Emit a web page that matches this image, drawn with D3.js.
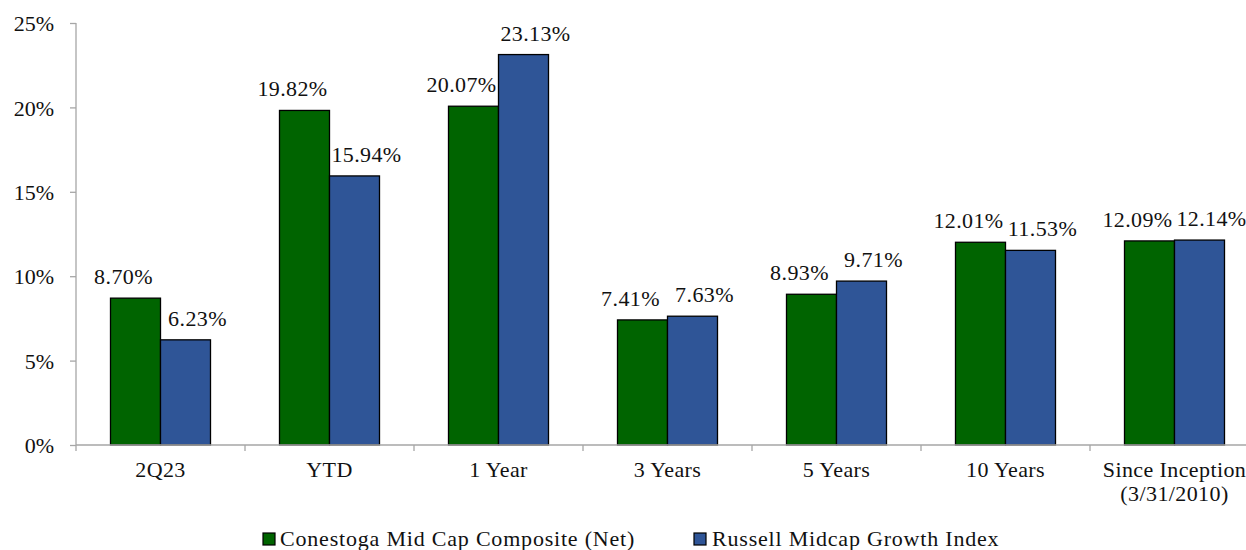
<!DOCTYPE html>
<html>
<head>
<meta charset="utf-8">
<script src="https://cdn.jsdelivr.net/npm/d3@7"></script>
<style>
  html, body { margin: 0; padding: 0; background: #fff; }
  svg { display: block; overflow: hidden; }
  text { font-family: "Liberation Serif", "Times New Roman", serif; fill: #111; }
</style>
</head>
<body>
<svg id="chart" width="1246" height="550"></svg>
<script>
const categories = ["2Q23", "YTD", "1 Year", "3 Years", "5 Years", "10 Years", "Since Inception\n(3/31/2010)"];
const seriesNames = ["Conestoga Mid Cap Composite (Net)", "Russell Midcap Growth Index"];
const conestoga = [8.70, 19.82, 20.07, 7.41, 8.93, 12.01, 12.09];
const russell = [6.23, 15.94, 23.13, 7.63, 9.71, 11.53, 12.14];
const yTicks = [0, 5, 10, 15, 20, 25];
const colors = ["#006400", "#2F5597"];

const svg = d3.select("#chart");
const x0 = 76, x1 = 1259, yBottom = 445, yTop = 23;

const x = d3.scaleBand().domain(categories).range([x0, x1]).paddingInner(0).paddingOuter(0);
const y = d3.scaleLinear().domain([0, 25]).range([yBottom, yTop]);
const barW = 50;
const xs = d3.scaleBand().domain([0, 1]).range([x.bandwidth() / 2 - barW, x.bandwidth() / 2 + barW]);

const fontSize = 22;
const labelShift = [-12, 12];

// Y axis
const yAxis = d3.axisLeft(y).tickValues(yTicks).tickFormat(d => d + "%").tickSize(6).tickPadding(10);
const gy = svg.append("g").attr("transform", `translate(${x0},0)`).call(yAxis);
gy.select(".domain").attr("stroke", "#a6a6a6").attr("stroke-width", 1.3).attr("d", `M0,${yTop}V${yBottom + 6}`);
gy.selectAll(".tick line").attr("stroke", "#a6a6a6").attr("stroke-width", 1.3);
gy.selectAll(".tick text").style("font-size", fontSize + "px").attr("fill", "#111").attr("dy", "0.35em").attr("x", -22);

// Bars
const data = categories.map((c, i) => ({ cat: c, vals: [conestoga[i], russell[i]] }));
const groups = svg.append("g").selectAll("g").data(data).join("g")
  .attr("transform", d => `translate(${x(d.cat)},0)`);

groups.selectAll("rect").data(d => d.vals.map((v, j) => ({ v, j }))).join("rect")
  .attr("x", d => xs(d.j))
  .attr("width", xs.bandwidth())
  .attr("y", d => y(d.v))
  .attr("height", d => y(0) - y(d.v))
  .attr("fill", d => colors[d.j])
  .attr("stroke", "#000")
  .attr("stroke-width", 1.3);

groups.selectAll("text.val").data(d => d.vals.map((v, j) => ({ v, j }))).join("text")
  .attr("class", "val")
  .attr("x", d => xs(d.j) + xs.bandwidth() / 2 + labelShift[d.j])
  .attr("y", d => y(d.v) - 14)
  .attr("text-anchor", "middle")
  .style("font-size", fontSize + "px")
  .style("letter-spacing", "0.4px")
  .text(d => d.v.toFixed(2) + "%");

// X axis
const xAxis = d3.axisBottom(x).tickSize(0).tickFormat("");
const gx = svg.append("g").attr("transform", `translate(0,${yBottom})`).call(xAxis);
gx.select(".domain").attr("stroke", "#a6a6a6").attr("stroke-width", 1.3).attr("d", `M${x0},0H${x1}`);
gx.selectAll(".tick").remove();
const boundaries = categories.map(c => x(c)).slice(1).concat([x1]);
gx.selectAll("line.bt").data(boundaries).join("line")
  .attr("class", "bt")
  .attr("x1", d => d).attr("x2", d => d)
  .attr("y1", 0).attr("y2", 6)
  .attr("stroke", "#a6a6a6").attr("stroke-width", 1.3);

// category labels
const catLabels = svg.append("g").selectAll("text").data(categories).join("text")
  .attr("text-anchor", "middle")
  .attr("transform", d => `translate(${x(d) + x.bandwidth() / 2},477)`)
  .style("font-size", fontSize + "px")
  .style("letter-spacing", "0.4px");
catLabels.each(function(d) {
  const lines = d.split("\n");
  d3.select(this).selectAll("tspan").data(lines).join("tspan")
    .attr("x", 0)
    .attr("dy", (l, i) => i === 0 ? 0 : 24)
    .text(l => l);
});

// Legend
const legendItems = [
  { name: seriesNames[0], color: colors[0], sx: 263, tx: 280 },
  { name: seriesNames[1], color: colors[1], sx: 694, tx: 712 }
];
const lg = svg.append("g").selectAll("g").data(legendItems).join("g");
lg.append("rect")
  .attr("x", d => d.sx).attr("y", 533).attr("width", 12).attr("height", 12)
  .attr("fill", d => d.color).attr("stroke", "#000").attr("stroke-width", 1.2);
lg.append("text")
  .attr("x", d => d.tx).attr("y", 546)
  .style("font-size", fontSize + "px")
  .style("letter-spacing", "0.8px")
  .text(d => d.name);
</script>
</body>
</html>
